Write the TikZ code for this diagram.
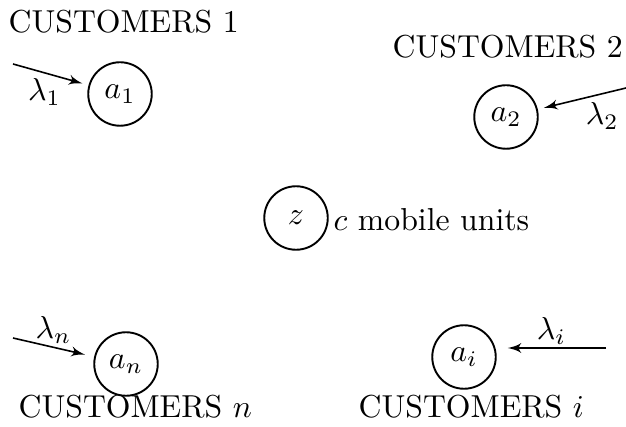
\documentclass[tikz,border=0pt]{standalone}
\usetikzlibrary{arrows,positioning}

\begin{document}
\begin{tikzpicture}[x=0.315pt, y=-0.315pt]
    \tikzstyle{station} = [circle, draw, line width=0.6pt, minimum size=20pt,
               inner sep=0pt]
    \tikzstyle{group} = [anchor=base west, inner sep=0pt]
    \tikzstyle{line} = [draw, -latex', line width=0.5pt, shorten >=2pt]
    \tikzstyle{rate} = [inner sep=1pt]

    \useasboundingbox (0,0) rectangle (626,427);

    % customer groups
    \node[station] (a1) at (120,94) {$a_1$};
    \node[station] (a2) at (506,117) {$a_2$};
    \node[station] (an) at (126,364) {$a_n$};
    \node[station] (ai) at (464,357) {$a_i$};

    % mobile units
    \node[station] (z) at (296,218) {$z$};
    \node[group] (units) at (333,231) {$c$ mobile units};

    \node[group] (c1) at (8,33) {CUSTOMERS 1};
    \node[group] (c2) at (392,58) {CUSTOMERS 2};
    \node[group] (cn) at (18,417) {CUSTOMERS $n$};
    \node[group] (ci) at (358,417) {CUSTOMERS $i$};

    % arrivals
    \coordinate (in1) at (13,64);
    \coordinate (in2) at (626,88);
    \coordinate (inN) at (13,338);
    \coordinate (inI) at (606,348);

    \draw[line] (in1) -- node[rate, below, xshift=-2pt] (l1) {$\lambda_1$} (a1);
    \draw[line] (in2) -- node[rate, below right] (l2) {$\lambda_2$} (a2);
    \draw[line, shorten >=3pt] (inN) -- node[rate, above] (ln) {$\lambda_n$} (an);
    \draw[line, shorten >=3.5pt] (inI) -- node[rate, above] (li) {$\lambda_i$} (inI -| ai.east);
  \end{tikzpicture}
\end{document}
